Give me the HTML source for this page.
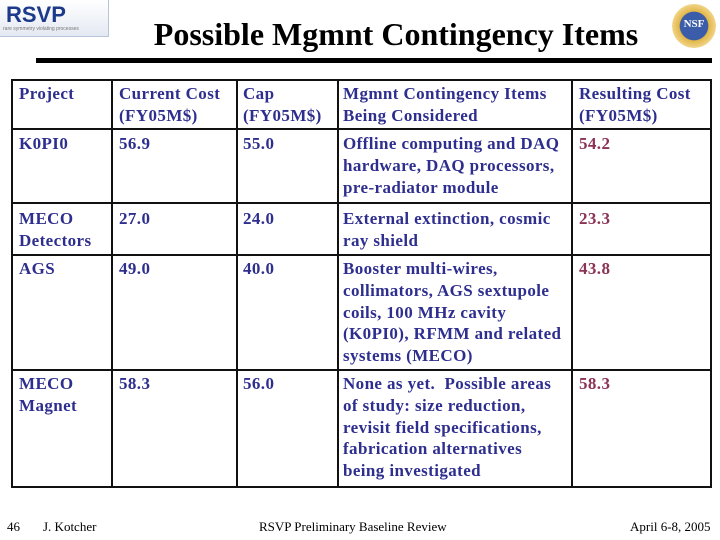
<!DOCTYPE html>
<html><head><meta charset="utf-8"><style>
body{margin:0;width:720px;height:540px;background:#fff;position:relative;overflow:hidden;font-family:"Liberation Serif",serif}
.a{position:absolute}
.c{position:absolute;font-weight:bold;font-size:17px;letter-spacing:0.4px;line-height:21.8px;color:#2e2e8f;white-space:nowrap}
.r{color:#8a3355}
.vl{position:absolute;background:#111;width:1.5px;top:80px;height:406px}
.hl{position:absolute;background:#111;height:1.5px;left:11px;width:700px}
</style></head><body>
<div class="a" style="left:0;top:0;width:108px;height:36px;background:linear-gradient(#fff,#e4e9f2);border-right:1px solid #b8c4dc;border-bottom:1px solid #b8c4dc">
<div style="position:absolute;left:6px;top:2px;font:bold 22px 'Liberation Sans',sans-serif;color:#1d3a8a">RSVP</div>
<div style="position:absolute;left:3px;top:26px;font:5px 'Liberation Sans',sans-serif;color:#777">rare symmetry violating processes</div></div>
<div class="a" style="left:0;width:792px;text-align:center;top:13px;font-weight:bold;font-size:32px;line-height:42px">Possible Mgmnt Contingency Items</div>
<div class="a" style="left:672px;top:4px;width:44px;height:44px;border-radius:50%;background:radial-gradient(#3b5ca8 45%,#e2b648 47%,#f0d488 70%,#fff 72%)"><div style="position:absolute;left:0;width:44px;top:14px;text-align:center;font:bold 11px 'Liberation Serif',serif;color:#fff">NSF</div></div>
<div class="a" style="left:36px;top:58px;width:676px;height:5px;background:#000"></div>

<div>
<div class="a" style="left:11px;top:79px;width:697px;height:405px;border:2px solid #111"></div>
<div class="vl" style="left:111px"></div><div class="vl" style="left:236px"></div><div class="vl" style="left:337px"></div><div class="vl" style="left:571px"></div>
<div class="hl" style="top:128px"></div><div class="hl" style="top:202px"></div><div class="hl" style="top:254px"></div><div class="hl" style="top:369px"></div>

<div class="c" style="left:19px;top:83px">Project</div>
<div class="c" style="left:119px;top:83px">Current Cost<br>(FY05M$)</div>
<div class="c" style="left:243px;top:83px">Cap<br>(FY05M$)</div>
<div class="c" style="left:343px;top:83px">Mgmnt Contingency Items<br>Being Considered</div>
<div class="c" style="left:579px;top:83px">Resulting Cost<br>(FY05M$)</div>

<div class="c" style="left:19px;top:133px">K0PI0</div>
<div class="c" style="left:119px;top:133px">56.9</div>
<div class="c" style="left:243px;top:133px">55.0</div>
<div class="c" style="left:343px;top:133px">Offline computing and DAQ<br>hardware, DAQ processors,<br>pre-radiator module</div>
<div class="c r" style="left:579px;top:133px">54.2</div>

<div class="c" style="left:19px;top:208px">MECO<br>Detectors</div>
<div class="c" style="left:119px;top:208px">27.0</div>
<div class="c" style="left:243px;top:208px">24.0</div>
<div class="c" style="left:343px;top:208px">External extinction, cosmic<br>ray shield</div>
<div class="c r" style="left:579px;top:208px">23.3</div>

<div class="c" style="left:19px;top:258px">AGS</div>
<div class="c" style="left:119px;top:258px">49.0</div>
<div class="c" style="left:243px;top:258px">40.0</div>
<div class="c" style="left:343px;top:258px">Booster multi-wires,<br>collimators, AGS sextupole<br>coils, 100 MHz cavity<br>(K0PI0), RFMM and related<br>systems (MECO)</div>
<div class="c r" style="left:579px;top:258px">43.8</div>

<div class="c" style="left:19px;top:373px">MECO<br>Magnet</div>
<div class="c" style="left:119px;top:373px">58.3</div>
<div class="c" style="left:243px;top:373px">56.0</div>
<div class="c" style="left:343px;top:373px">None as yet.&nbsp; Possible areas<br>of study: size reduction,<br>revisit field specifications,<br>fabrication alternatives<br>being investigated</div>
<div class="c r" style="left:579px;top:373px">58.3</div>
</div>

<div class="a" style="left:7px;top:519px;font-size:13px">46</div>
<div class="a" style="left:43px;top:519px;font-size:13px">J. Kotcher</div>
<div class="a" style="left:259px;top:519px;font-size:13px">RSVP Preliminary Baseline Review</div>
<div class="a" style="left:630px;top:519px;font-size:13px">April 6-8, 2005</div>
</body></html>
